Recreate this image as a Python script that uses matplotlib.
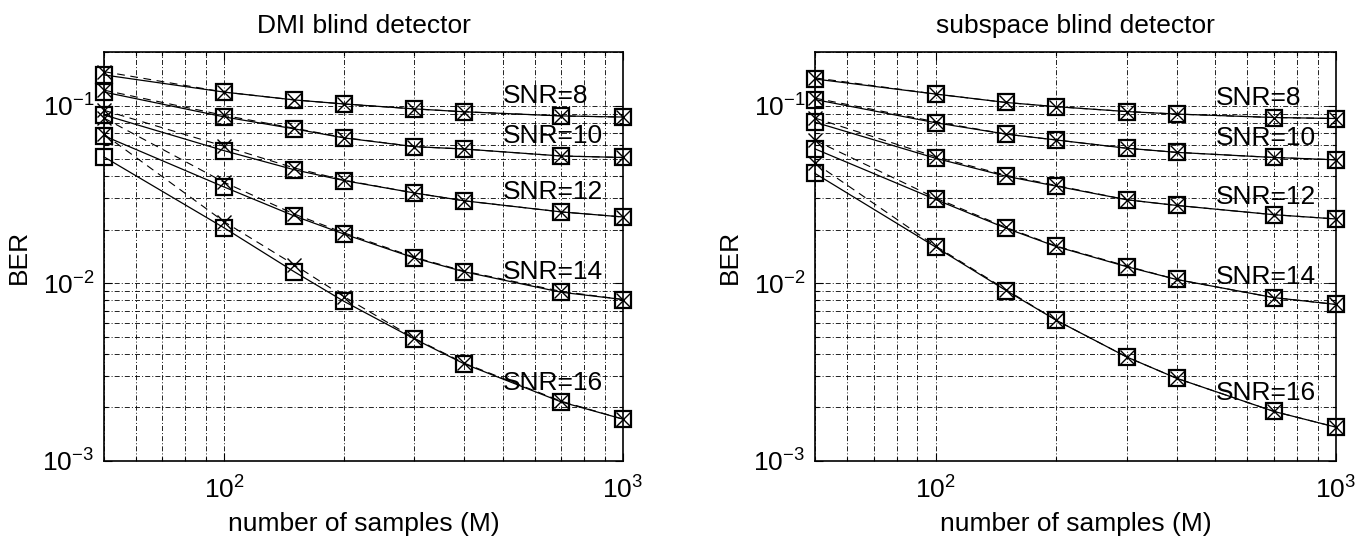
import matplotlib
matplotlib.use("Agg")
import matplotlib.pyplot as plt
from matplotlib.ticker import LogLocator, NullFormatter

plt.rcParams['font.family'] = ['Liberation Sans', 'DejaVu Sans']
plt.rcParams['mathtext.fontset'] = 'custom'
plt.rcParams['mathtext.rm'] = 'Liberation Sans'
plt.rcParams['mathtext.it'] = 'Liberation Sans'

samples = [50, 100, 150, 200, 300, 400, 700, 1000]
snr_labels = ["SNR=8", "SNR=10", "SNR=12", "SNR=14", "SNR=16"]

# DMI blind detector: analytic (squares, solid) and simulated (x, dashed)
dmi_theory = [
    [0.1486, 0.119, 0.1075, 0.102, 0.0957, 0.0922, 0.0874, 0.0861],
    [0.119, 0.0863, 0.0739, 0.0657, 0.0587, 0.0569, 0.0520, 0.0510],
    [0.0885, 0.0557, 0.0435, 0.0378, 0.0322, 0.0291, 0.0252, 0.0236],
    [0.0675, 0.0348, 0.0239, 0.0189, 0.01388, 0.0116, 0.0089, 0.0081],
    [0.0514, 0.0205, 0.0116, 0.0079, 0.00486, 0.00352, 0.00215, 0.00172],
]
dmi_sim = [
    [0.155, 0.119, 0.1075, 0.102, 0.0957, 0.0922, 0.0874, 0.0861],
    [0.122, 0.088, 0.0745, 0.0660, 0.0587, 0.0569, 0.0520, 0.0510],
    [0.094, 0.059, 0.0445, 0.0380, 0.0322, 0.0291, 0.0252, 0.0236],
    [0.085, 0.037, 0.0245, 0.0192, 0.0140, 0.0117, 0.0090, 0.0081],
    [0.069, 0.0222, 0.0127, 0.0084, 0.0049, 0.00355, 0.00217, 0.00172],
]
dmi_label_y = [0.113, 0.0675, 0.0327, 0.0116, 0.00275]

# subspace blind detector
sub_theory = [
    [0.141, 0.116, 0.104, 0.0985, 0.0925, 0.0895, 0.0856, 0.0845],
    [0.108, 0.080, 0.069, 0.064, 0.0575, 0.0545, 0.051, 0.0495],
    [0.0805, 0.0505, 0.040, 0.0352, 0.0295, 0.0274, 0.0243, 0.023],
    [0.057, 0.0296, 0.0204, 0.0161, 0.0124, 0.0105, 0.0083, 0.0076],
    [0.0415, 0.016, 0.0091, 0.0062, 0.00385, 0.00292, 0.0019, 0.00155],
]
sub_sim = [
    [0.143, 0.116, 0.104, 0.0985, 0.0925, 0.0895, 0.0856, 0.0845],
    [0.110, 0.081, 0.069, 0.064, 0.0575, 0.0545, 0.051, 0.0495],
    [0.085, 0.0515, 0.0405, 0.0355, 0.0295, 0.0274, 0.0243, 0.023],
    [0.0637, 0.0302, 0.0206, 0.0162, 0.0125, 0.0105, 0.0083, 0.0076],
    [0.0475, 0.0162, 0.0092, 0.0062, 0.00385, 0.00292, 0.0019, 0.00155],
]
sub_label_y = [0.110, 0.0655, 0.0307, 0.0108, 0.0024]
label_x = 500

titles = ["DMI blind detector", "subspace blind detector"]
FS = 19

fig = plt.figure(figsize=(13.64, 5.41), dpi=100)
ax1 = fig.add_axes([104/1364, 1-461/541, 519/1364, 409/541])
ax2 = fig.add_axes([815/1364, 1-461/541, 521/1364, 409/541])

grid_ls = (0, (6, 2.5, 1.2, 2.5))
for ax, th, sm, ly, title in [(ax1, dmi_theory, dmi_sim, dmi_label_y, titles[0]),
                               (ax2, sub_theory, sub_sim, sub_label_y, titles[1])]:
    ax.set_xscale('log')
    ax.set_yscale('log')
    ax.set_xlim(50, 1000)
    ax.set_ylim(1e-3, 0.2)
    ax.xaxis.set_major_locator(LogLocator(base=10, numticks=10))
    ax.xaxis.set_minor_locator(LogLocator(base=10, subs=range(2, 10), numticks=20))
    ax.yaxis.set_major_locator(LogLocator(base=10, numticks=10))
    ax.yaxis.set_minor_locator(LogLocator(base=10, subs=range(2, 10), numticks=20))
    ax.xaxis.set_minor_formatter(NullFormatter())
    ax.yaxis.set_minor_formatter(NullFormatter())
    ax.grid(True, which='both', color='black', linestyle=grid_ls, linewidth=0.6)
    ax.set_axisbelow(True)
    for t, s in zip(th, sm):
        ax.plot(samples, s, color='black', linestyle=(0, (7, 5)), linewidth=0.8,
                marker='x', markersize=10, markeredgewidth=1.0, clip_on=False)
        ax.plot(samples, t, color='black', linestyle='-', linewidth=0.9,
                marker='s', markersize=11, markerfacecolor='none',
                markeredgewidth=1.6, clip_on=False)
    for lab, yv in zip(snr_labels, ly):
        ax.text(label_x, yv, lab, fontsize=FS, ha='left', va='center')
    ax.tick_params(which='both', direction='in', top=True, right=True,
                   labelsize=FS, width=0.8)
    ax.tick_params(which='major', length=6)
    ax.tick_params(axis='x', which='major', pad=11)
    ax.tick_params(axis='y', which='major', pad=7)
    ax.tick_params(which='minor', length=3)
    for sp in ax.spines.values():
        sp.set_linewidth(1.2)
    ax.set_title(title, fontsize=FS, pad=14)
    ax.set_xlabel("number of samples (M)", fontsize=FS, labelpad=6)
    ax.set_ylabel("BER", fontsize=FS, labelpad=8)

fig.savefig("out.png", dpi=100)
